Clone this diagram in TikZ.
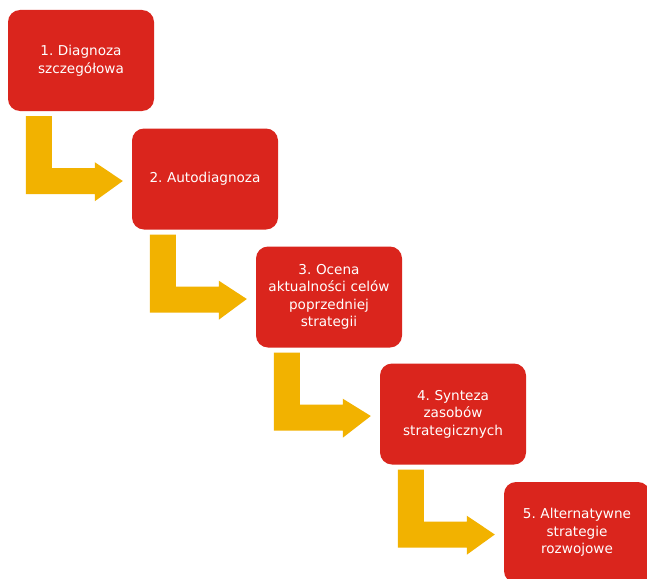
\documentclass[tikz,border=0pt]{standalone}
\usepackage{fontspec}
\setmainfont{DejaVu Sans}
\usetikzlibrary{calc}
\definecolor{boxred}{HTML}{DA251D}
\definecolor{arrowyel}{HTML}{F2B200}
\tikzset{
  stepbox/.style={fill=boxred, rounded corners=12pt, minimum width=146pt,
    minimum height=101pt, text width=140pt, align=center, text=white,
    font=\fontsize{13.6}{17.5}\selectfont, inner sep=0pt},
  flowarrow/.style={fill=arrowyel}
}
\newcommand\steparrow[2]{%
  \coordinate (o) at (#1.south west);
  \fill[flowarrow] ($(o)+(18,5)$) -- ($(o)+(44,5)$) -- ($(o)+(44,57)$)
    -- ($(o)+(87,57)$) -- ($(o)+(87,51)$) -- ($(#2.west)+(-9,2)$)
    -- ($(o)+(87,90)$) -- ($(o)+(87,83)$) -- ($(o)+(18,83)$) -- cycle;
}
\begin{document}
\frenchspacing
\begin{tikzpicture}[x=1pt,y=-1pt]
\useasboundingbox (0,0) rectangle (647,578);
\fill[white] (0,0) rectangle (647,578);
\node[stepbox] (b1) at (81,60.5) {1. Diagnoza\\szczegółowa};
\node[stepbox] (b2) at (205,179) {2. Autodiagnoza};
\node[stepbox] (b3) at (329,297) {3. Ocena\\aktualności celów\\poprzedniej\\strategii};
\node[stepbox] (b4) at (453,414) {4. Synteza\\zasobów\\strategicznych};
\node[stepbox] (b5) at (577,532.5) {5. Alternatywne\\strategie\\rozwojowe};
\steparrow{b1}{b2}
\steparrow{b2}{b3}
\steparrow{b3}{b4}
\steparrow{b4}{b5}
\end{tikzpicture}
\end{document}
